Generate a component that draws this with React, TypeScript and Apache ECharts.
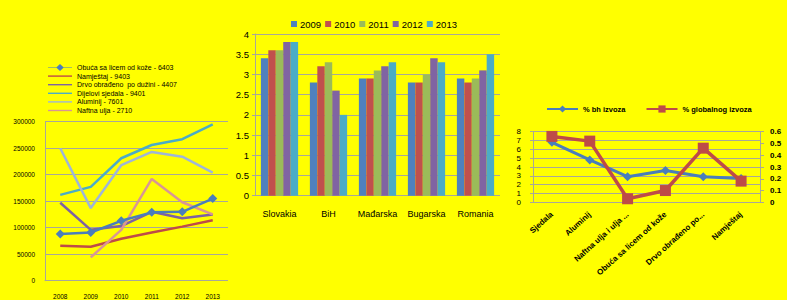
import React, { useEffect, useRef } from "react";
import * as echarts from "echarts";

const FONT = "Liberation Sans, Arial, sans-serif";
const BG = "#ffff00";
const GRID = "#a8a898";

// Chart 1 – export values by year
const years = ["2008", "2009", "2010", "2011", "2012", "2013"];
const yTicks1 = [0, 50000, 300000];
const obuca = [88000, 91000, 113000, 129000, 130000, 155000];
const namjestaj = [66000, 64000, 79000, 91000, 102000, 114000];
const drvo = [147000, 96000, 103000, 130000, 118000, 125000];
const dijelovi = [162000, 177000, 231000, 256000, 267000, 295000];
const aluminij = [250000, 137000, 218000, 243000, 234000, 204000];
const naftna = [null, 44000, 96000, 192000, 148000, 125000];
const names1 = [
  "Obuća sa licem od kože - 6403",
  "Namještaj - 9403",
  "Drvo obrađeno  po dužini - 4407",
  "Dijelovi sjedala - 9401",
  "Aluminij - 7601",
  "Naftna ulja - 2710",
];

// Chart 2 – bars by country and year
const countries = ["Slovakia", "BiH", "Mađarska", "Bugarska", "Romania"];
const barYears = ["2009", "2010", "2011", "2012", "2013"];
const v2009 = [3.4, 2.8, 2.9, 2.8, 2.9];
const v2010 = [3.6, 3.2, 2.9, 2.8, 2.8];
const v2011 = [3.6, 3.3, 3.1, 3.0, 2.9];
const v2012 = [3.8, 2.6, 3.2, 3.4, 3.1];
const v2013 = [3.8, 2.0, 3.3, 3.3, 3.5];

// Chart 3 – shares by product
const products = [
  "Sjedala",
  "Aluminij",
  "Naftna ulja i ulja ...",
  "Obuća sa licem od kože",
  "Drvo obrađeno po...",
  "Namještaj",
];
const bhShare = [6.8, 4.8, 2.9, 3.6, 2.9, 2.7];
const globalShare = [0.56, 0.52, 0.03, 0.1, 0.46, 0.18];

const LINE_ICON = "path://M0,0H24V1.4H0Z";
const LINE_DIAMOND_ICON = "path://M0,3.2H8.5L12,0L15.5,3.2H24V3.8H15.5L12,7L8.5,3.8H0Z";

function useChart(build: () => any) {
  const ref = useRef<HTMLDivElement>(null);
  useEffect(() => {
    if (!ref.current) return;
    const c = echarts.init(ref.current, null, { renderer: "svg" });
    c.setOption(build());
    return () => c.dispose();
  }, []);
  return ref;
}

export default function App() {
  const ref1 = useChart(() => {
    const cols = ["#4a7ebb", "#be4b48", "#7e62a1", "#4bacc6", "#9fb6d6", "#d99694"];
    const data = [obuca, namjestaj, drvo, dijelovi, aluminij, naftna];
    return {
      animation: false,
      backgroundColor: BG,
      textStyle: { fontFamily: FONT },
      legend: {
        orient: "vertical",
        left: 43,
        top: 59,
        itemWidth: 24,
        itemHeight: 7,
        itemGap: 1.6,
        textStyle: { fontSize: 7, color: "#000", fontFamily: FONT },
        data: names1.map((n, i) => ({ name: n, icon: i === 0 ? LINE_DIAMOND_ICON : LINE_ICON })),
      },
      grid: { left: 45, top: 121.7, width: 190, height: 159 },
      xAxis: {
        type: "category",
        data: years,
        boundaryGap: true,
        axisLine: { lineStyle: { color: GRID } },
        axisTick: { lineStyle: { color: GRID }, length: 4 },
        axisLabel: { fontSize: 6.5, color: "#000", margin: 12, fontFamily: FONT },
      },
      yAxis: {
        type: "value",
        min: yTicks1[0],
        max: yTicks1[2],
        interval: yTicks1[1],
        axisLine: { show: true, lineStyle: { color: GRID } },
        axisTick: { show: false },
        splitLine: { lineStyle: { color: GRID, width: 1.2 } },
        axisLabel: {
          fontSize: 6.5,
          color: "#000",
          margin: 10,
          fontFamily: FONT,
          formatter: (v: number) => String(v),
        },
      },
      series: data.map((d, i) => ({
        type: "line",
        name: names1[i],
        data: d,
        color: cols[i],
        lineStyle: { width: 2.5, color: cols[i] },
        symbol: i === 0 ? "diamond" : "none",
        symbolSize: 9,
        itemStyle: { color: cols[i] },
        z: i === 0 ? 5 : 2,
      })),
    };
  });

  const ref2 = useChart(() => {
    const cols = ["#4f81bd", "#c0504d", "#9bbb59", "#8064a2", "#4bacc6"];
    const data = [v2009, v2010, v2011, v2012, v2013];
    return {
      animation: false,
      backgroundColor: BG,
      textStyle: { fontFamily: FONT },
      legend: {
        top: 14,
        left: 58,
        itemWidth: 6,
        itemHeight: 6,
        itemGap: 4,
        icon: "rect",
        textStyle: { fontSize: 9.5, color: "#000", fontFamily: FONT, padding: [0, 0, 0, -2] },
        data: barYears,
      },
      grid: { left: 27, top: 34, width: 252, height: 161.7 },
      xAxis: {
        type: "category",
        data: countries,
        axisLine: { lineStyle: { color: GRID } },
        axisTick: { lineStyle: { color: GRID }, length: 4 },
        axisLabel: { fontSize: 9, color: "#000", margin: 14, interval: 0, fontFamily: FONT },
      },
      yAxis: {
        type: "value",
        min: 0,
        max: 4,
        interval: 0.5,
        axisLine: { show: true, lineStyle: { color: GRID } },
        axisTick: { show: true, lineStyle: { color: GRID }, length: 3 },
        splitLine: { lineStyle: { color: GRID, width: 1.2 } },
        axisLabel: { fontSize: 9.5, color: "#000", margin: 6, fontFamily: FONT },
      },
      series: data.map((d, i) => ({
        type: "bar",
        name: barYears[i],
        data: d,
        itemStyle: { color: cols[i] },
        barGap: "0%",
        barCategoryGap: "24%",
      })),
    };
  });

  const ref3 = useChart(() => ({
    animation: false,
    backgroundColor: BG,
    textStyle: { fontFamily: FONT },
    legend: {
      top: 100,
      left: 41,
      itemWidth: 31,
      itemHeight: 9,
      itemGap: 20,
      textStyle: { fontSize: 7.5, fontWeight: "bold", color: "#000", fontFamily: FONT },
      data: ["% bh izvoza", "% globalnog izvoza"],
    },
    grid: { left: 33, top: 131.7, width: 227, height: 70.6 },
    xAxis: {
      type: "category",
      data: products,
      axisLine: { lineStyle: { color: GRID } },
      axisTick: { lineStyle: { color: GRID }, length: 4 },
      axisLabel: {
        fontSize: 8,
        fontWeight: "bold",
        color: "#000",
        rotate: 42,
        margin: 11,
        interval: 0,
        fontFamily: FONT,
      },
    },
    yAxis: [
      {
        type: "value",
        min: 0,
        max: 8,
        interval: 1,
        axisLine: { show: true, lineStyle: { color: GRID } },
        axisTick: { show: true, lineStyle: { color: GRID }, length: 3 },
        splitLine: { lineStyle: { color: GRID, width: 1.2 } },
        axisLabel: { fontSize: 8, color: "#000", margin: 12, fontFamily: FONT },
      },
      {
        type: "value",
        min: 0,
        max: 0.6,
        interval: 0.1,
        axisLine: { show: true, lineStyle: { color: GRID } },
        axisTick: { show: true, lineStyle: { color: GRID }, length: 4 },
        splitLine: { show: false },
        axisLabel: {
          fontSize: 8,
          fontWeight: "bold",
          color: "#000",
          margin: 10,
          fontFamily: FONT,
          formatter: (v: number) => (v === 0 ? "0" : v.toFixed(1)),
        },
      },
    ],
    series: [
      {
        type: "line",
        name: "% bh izvoza",
        data: bhShare,
        yAxisIndex: 0,
        color: "#4a7ebb",
        lineStyle: { width: 3, color: "#4a7ebb" },
        itemStyle: { color: "#4a7ebb" },
        symbol: "diamond",
        symbolSize: 9,
      },
      {
        type: "line",
        name: "% globalnog izvoza",
        data: globalShare,
        yAxisIndex: 1,
        color: "#be4b48",
        lineStyle: { width: 3.5, color: "#be4b48" },
        itemStyle: { color: "#be4b48" },
        symbol: "rect",
        symbolSize: 11,
      },
    ],
  }));

  const base: React.CSSProperties = { position: "absolute", top: 0, height: 300, overflow: "hidden" };
  return (
    <div style={{ position: "fixed", left: 0, top: 0, width: 787, height: 300, background: BG, overflow: "hidden" }}>
      <div ref={ref1} style={{ ...base, left: 0, width: 228 }} />
      <div ref={ref2} style={{ ...base, left: 228, width: 272 }} />
      <div ref={ref3} style={{ ...base, left: 500, width: 287 }} />
    </div>
  );
}
